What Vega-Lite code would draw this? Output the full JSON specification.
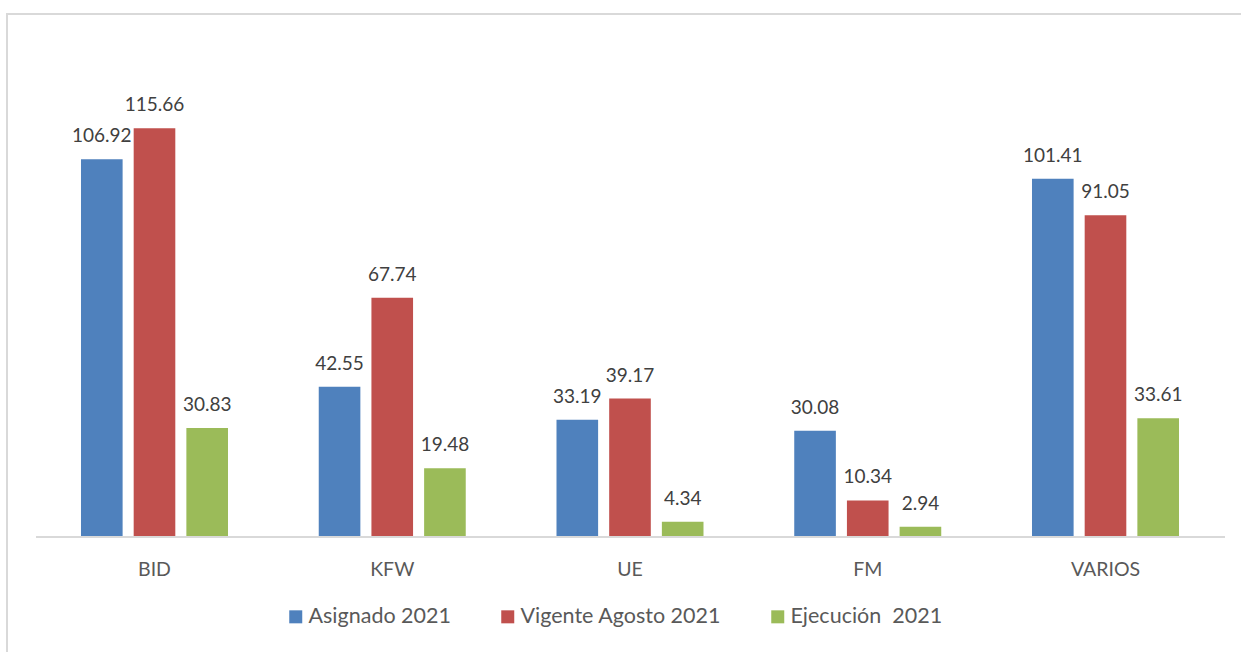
{
  "$schema": "https://vega.github.io/schema/vega-lite/v6.json",
  "width": 1243,
  "height": 646,
  "autosize": {"type": "none"},
  "padding": {"left": 7, "top": 14, "right": -9, "bottom": -8},
  "background": "white",
  "config": {"view": {"stroke": "#d9d9d9", "strokeWidth": 2}, "font": "Lato"},
  "data": {"values": [
    {"fuente": "BID", "serie": "Asignado 2021", "valor": 106.92},
    {"fuente": "BID", "serie": "Vigente Agosto 2021", "valor": 115.66},
    {"fuente": "BID", "serie": "Ejecución  2021", "valor": 30.83},
    {"fuente": "KFW", "serie": "Asignado 2021", "valor": 42.55},
    {"fuente": "KFW", "serie": "Vigente Agosto 2021", "valor": 67.74},
    {"fuente": "KFW", "serie": "Ejecución  2021", "valor": 19.48},
    {"fuente": "UE", "serie": "Asignado 2021", "valor": 33.19},
    {"fuente": "UE", "serie": "Vigente Agosto 2021", "valor": 39.17},
    {"fuente": "UE", "serie": "Ejecución  2021", "valor": 4.34},
    {"fuente": "FM", "serie": "Asignado 2021", "valor": 30.08},
    {"fuente": "FM", "serie": "Vigente Agosto 2021", "valor": 10.34},
    {"fuente": "FM", "serie": "Ejecución  2021", "valor": 2.94},
    {"fuente": "VARIOS", "serie": "Asignado 2021", "valor": 101.41},
    {"fuente": "VARIOS", "serie": "Vigente Agosto 2021", "valor": 91.05},
    {"fuente": "VARIOS", "serie": "Ejecución  2021", "valor": 33.61}
  ]},
  "layer": [
    {
      "mark": {"type": "bar"},
      "encoding": {
        "x": {
          "field": "fuente", "type": "nominal",
          "scale": {"domain": ["BID", "KFW", "UE", "FM", "VARIOS"], "paddingInner": 0.3817, "paddingOuter": 0.30494, "align": 0.5103, "round": false},
          "axis": {"title": null, "orient": "bottom", "offset": -123, "domain": false, "ticks": false, "tickSize": 0, "labelPadding": 38, "labelBaseline": "alphabetic", "labelFontSize": 19.5, "labelColor": "#595959", "labelAngle": 0, "labelFont": "Lato"}
        },
        "xOffset": {
          "field": "serie", "type": "nominal",
          "scale": {"domain": ["Asignado 2021", "Vigente Agosto 2021", "Ejecución  2021"], "paddingInner": 0.21, "paddingOuter": 0}
        },
        "y": {"field": "valor", "type": "quantitative", "scale": {"domain": [-34.8, 148], "nice": false, "zero": false}, "axis": null},
        "y2": {"datum": 0},
        "color": {
          "field": "serie", "type": "nominal",
          "scale": {"domain": ["Asignado 2021", "Vigente Agosto 2021", "Ejecución  2021"], "range": ["#4F81BD", "#C0504D", "#9BBB59"]},
          "legend": {"orient": "none", "legendX": 278, "legendY": 591.7, "direction": "horizontal", "title": null, "symbolType": "square", "symbolSize": 169, "symbolStrokeWidth": 0, "labelFontSize": 21.5, "labelColor": "#595959", "labelFont": "Lato", "columnPadding": 45, "labelOffset": 2, "padding": 0, "labelLimit": 400, "labelExpr": "replace(datum.label, '  ', '\u00a0 ')"}
        }
      }
    },
    {
      "mark": {"type": "text", "dy": -17, "baseline": "alphabetic", "fontSize": 19, "color": "#404040", "font": "Lato"},
      "encoding": {
        "x": {"field": "fuente", "type": "nominal"},
        "xOffset": {"field": "serie", "type": "nominal"},
        "y": {"field": "valor", "type": "quantitative"},
        "text": {"field": "valor", "type": "quantitative", "format": ".2f"}
      }
    },
    {
      "data": {"values": [{"a": 1}]},
      "mark": {"type": "rule", "color": "#d9d9d9", "strokeWidth": 2},
      "encoding": {
        "x": {"datum": "BID", "bandPosition": -0.306},
        "x2": {"datum": "VARIOS", "bandPosition": 1.313},
        "y": {"datum": 0}
      }
    }
  ]
}
